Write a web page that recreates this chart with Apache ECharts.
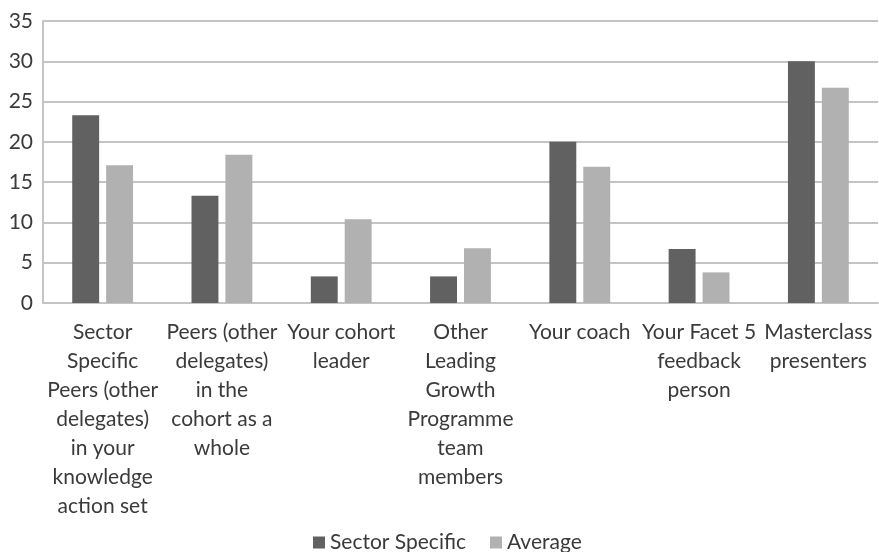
<!DOCTYPE html>
<html>
<head>
<meta charset="utf-8">
<title>Sources of support</title>
<script src="https://cdn.jsdelivr.net/npm/echarts@6/dist/echarts.min.js"></script>
<style>
  html, body { margin: 0; padding: 0; background: #ffffff; }
  #chart { width: 879px; height: 552px; }
</style>
</head>
<body>
<div id="chart"></div>
<script>
// Categories of support (label text as wrapped under each group) and the two series
const categories = [
  'Sector\nSpecific\nPeers (other\ndelegates)\nin your\nknowledge\naction set',
  'Peers (other\ndelegates)\nin the\ncohort as a\nwhole',
  'Your cohort\nleader',
  'Other\nLeading\nGrowth\nProgramme\nteam\nmembers',
  'Your coach',
  'Your Facet 5\nfeedback\nperson',
  'Masterclass\npresenters'
];
const sectorSpecific = [23.3, 13.3, 3.3, 3.3, 20, 6.7, 30];
const average = [17.1, 18.4, 10.4, 6.8, 16.9, 3.8, 26.7];
const yTicks = [0, 5, 10, 15, 20, 25, 30, 35];

const FONT = 'Lato';
const TEXT = '#3a3a3a';
const GRID = '#c4c4c4';

const chart = echarts.init(document.getElementById('chart'), null, { renderer: 'canvas' });

chart.setOption({
  animation: false,
  textStyle: { fontFamily: FONT },
  grid: { left: 43, right: 1, top: 21, bottom: 249, containLabel: false },
  legend: {
    data: ['Sector Specific', 'Average'],
    left: 308,
    top: 527,
    itemWidth: 12,
    itemHeight: 12,
    itemGap: 24,
    icon: 'rect',
    textStyle: { fontFamily: FONT, fontSize: 21, color: TEXT, padding: [0, 0, 0, 0] }
  },
  xAxis: {
    type: 'category',
    data: categories,
    axisLine: { show: true, lineStyle: { color: GRID, width: 2 } },
    axisTick: { show: false },
    axisLabel: {
      interval: 0,
      margin: 15,
      lineHeight: 29,
      fontFamily: FONT,
      fontSize: 21,
      color: TEXT,
      align: 'center',
      verticalAlign: 'top'
    }
  },
  yAxis: {
    type: 'value',
    min: 0,
    max: 35,
    interval: 5,
    axisLine: { show: true, lineStyle: { color: GRID, width: 2 } },
    axisTick: { show: false },
    splitLine: { show: true, lineStyle: { color: GRID, width: 2 } },
    axisLabel: {
      margin: 10,
      fontFamily: FONT,
      fontSize: 21,
      color: TEXT,
      formatter: v => (yTicks.indexOf(v) >= 0 ? String(v) : '')
    }
  },
  series: [
    {
      name: 'Sector Specific',
      type: 'bar',
      data: sectorSpecific,
      barGap: '26%',
      barCategoryGap: '49%',
      itemStyle: { color: '#616161' }
    },
    {
      name: 'Average',
      type: 'bar',
      data: average,
      itemStyle: { color: '#b1b1b1' }
    }
  ]
});
</script>
</body>
</html>
